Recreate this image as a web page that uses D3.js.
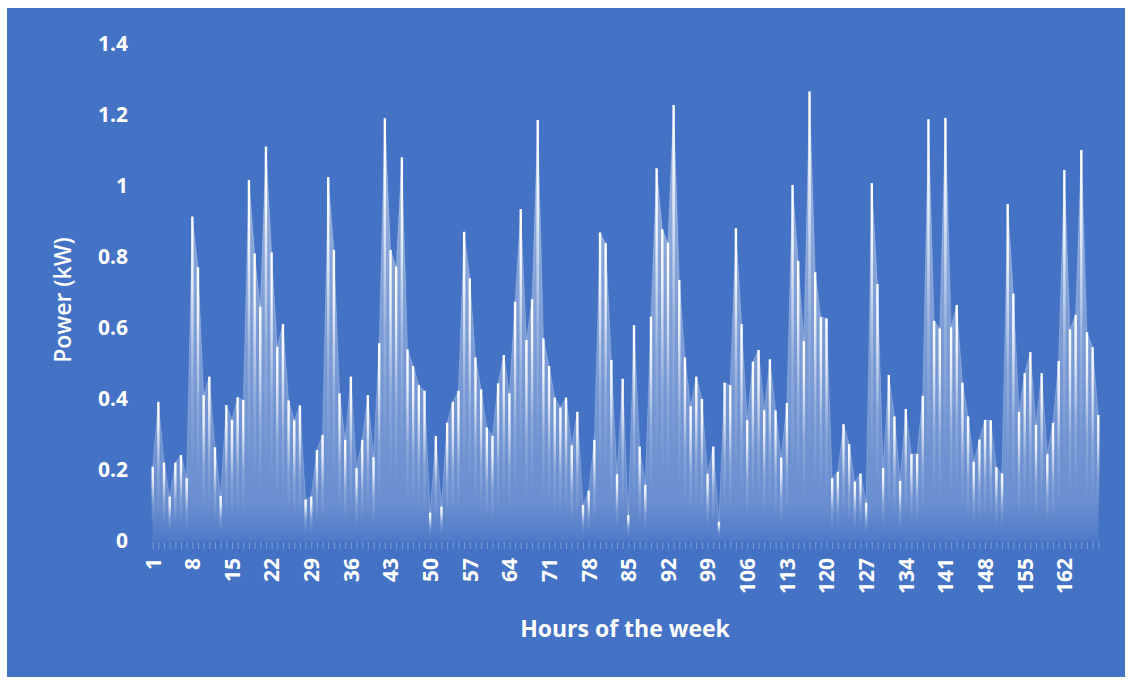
<!DOCTYPE html>
<html>
<head>
<meta charset="utf-8">
<script src="https://cdn.jsdelivr.net/npm/d3@7/dist/d3.min.js"></script>
<style>
  html, body { margin: 0; padding: 0; background: #ffffff; }
  svg { display: block; }
  text { font-family: "Open Sans", "DejaVu Sans", sans-serif; fill: #ffffff; }
</style>
</head>
<body>
<svg id="chart" width="1132" height="682"></svg>
<script>
// Hourly power draw across one week (168 hours), kW
const hours = d3.range(1, 169);
const power = [
  0.209, 0.392, 0.221, 0.125, 0.221, 0.242, 0.177, 0.914, 0.771, 0.411,
  0.463, 0.264, 0.127, 0.383, 0.341, 0.405, 0.397, 1.017, 0.810, 0.660,
  1.111, 0.813, 0.547, 0.611, 0.396, 0.340, 0.382, 0.117, 0.125, 0.256,
  0.299, 1.025, 0.820, 0.416, 0.285, 0.463, 0.205, 0.285, 0.411, 0.236,
  0.557, 1.191, 0.820, 0.773, 1.081, 0.540, 0.493, 0.439, 0.423, 0.080,
  0.296, 0.097, 0.333, 0.392, 0.423, 0.871, 0.740, 0.517, 0.427, 0.320,
  0.296, 0.444, 0.524, 0.416, 0.674, 0.935, 0.566, 0.681, 1.186, 0.571,
  0.493, 0.404, 0.376, 0.404, 0.269, 0.364, 0.101, 0.142, 0.285, 0.869,
  0.839, 0.510, 0.188, 0.457, 0.073, 0.608, 0.266, 0.158, 0.632, 1.050,
  0.878, 0.840, 1.228, 0.735, 0.517, 0.380, 0.463, 0.400, 0.189, 0.266,
  0.054, 0.446, 0.439, 0.881, 0.611, 0.340, 0.505, 0.538, 0.368, 0.512,
  0.368, 0.235, 0.389, 1.003, 0.789, 0.563, 1.266, 0.757, 0.631, 0.627,
  0.177, 0.195, 0.329, 0.273, 0.167, 0.190, 0.108, 1.008, 0.724, 0.205,
  0.468, 0.351, 0.169, 0.372, 0.245, 0.245, 0.409, 1.188, 0.620, 0.599,
  1.192, 0.602, 0.665, 0.446, 0.351, 0.223, 0.286, 0.341, 0.340, 0.208,
  0.190, 0.949, 0.697, 0.364, 0.473, 0.532, 0.327, 0.473, 0.245, 0.333,
  0.507, 1.045, 0.596, 0.637, 1.101, 0.588, 0.546, 0.355
];
const yTicks = [0, 0.2, 0.4, 0.6, 0.8, 1, 1.2, 1.4];
const xTickLabels = hours.filter(h => (h - 1) % 7 === 0);

const data = hours.map((h, i) => ({ hour: h, value: power[i] }));

const svg = d3.select("#chart");

// Chart panel
svg.append("rect")
  .attr("x", 7).attr("y", 8)
  .attr("width", 1118).attr("height", 669)
  .attr("fill", "#4472c4");

const plot = { left: 152.7, right: 1098.3, top: 44, bottom: 541 };

const x = d3.scalePoint()
  .domain(hours)
  .range([plot.left, plot.right]);

const y = d3.scaleLinear()
  .domain([0, 1.4])
  .range([plot.bottom, plot.top]);

const defs = svg.append("defs");

// Fill of the area: paler near the top, fading toward the baseline
const areaGrad = defs.append("linearGradient")
  .attr("id", "areaGrad")
  .attr("gradientUnits", "userSpaceOnUse")
  .attr("x1", 0).attr("x2", 0)
  .attr("y1", y(1.3)).attr("y2", y(0));
areaGrad.append("stop").attr("offset", 0).attr("stop-color", "#ffffff").attr("stop-opacity", 0.5);
areaGrad.append("stop").attr("offset", 0.55).attr("stop-color", "#ffffff").attr("stop-opacity", 0.3);
areaGrad.append("stop").attr("offset", 0.92).attr("stop-color", "#ffffff").attr("stop-opacity", 0.2);
areaGrad.append("stop").attr("offset", 1).attr("stop-color", "#ffffff").attr("stop-opacity", 0.06);

// Highlight streak under each hourly value
const streakGrad = defs.append("linearGradient")
  .attr("id", "streakGrad")
  .attr("x1", 0).attr("x2", 0).attr("y1", 0).attr("y2", 1);
streakGrad.append("stop").attr("offset", 0).attr("stop-color", "#ffffff").attr("stop-opacity", 1);
streakGrad.append("stop").attr("offset", 0.18).attr("stop-color", "#ffffff").attr("stop-opacity", 0.85);
streakGrad.append("stop").attr("offset", 0.5).attr("stop-color", "#ffffff").attr("stop-opacity", 0.2);
streakGrad.append("stop").attr("offset", 0.8).attr("stop-color", "#ffffff").attr("stop-opacity", 0);

const area = d3.area()
  .x(d => x(d.hour))
  .y0(y(0))
  .y1(d => y(d.value));

svg.append("path")
  .datum(data)
  .attr("d", area)
  .attr("fill", "url(#areaGrad)");

svg.append("path")
  .datum(data)
  .attr("d", d3.line().x(d => x(d.hour)).y(d => y(d.value)))
  .attr("fill", "none")
  .attr("stroke", "#ffffff")
  .attr("stroke-opacity", 0.2)
  .attr("stroke-width", 1);

svg.append("g")
  .selectAll("rect")
  .data(data)
  .join("rect")
  .attr("x", d => x(d.hour) - 1.2)
  .attr("width", 2.4)
  .attr("y", d => y(d.value))
  .attr("height", d => y(0) - y(d.value))
  .attr("fill", "url(#streakGrad)");

// Y axis labels
const yAxis = d3.axisLeft(y)
  .tickValues(yTicks)
  .tickFormat(d => d === 0 ? "0" : d3.format("~g")(d))
  .tickSize(0)
  .tickPadding(0);
const gy = svg.append("g")
  .attr("transform", "translate(128,0)")
  .call(yAxis);
gy.select(".domain").remove();
gy.selectAll("text")
  .attr("font-size", 21)
  .attr("font-weight", 700)
  .attr("font-family", "Open Sans, sans-serif")
  .attr("fill", "#ffffff");

// X axis: a tick per hour, labels every 7 hours
const xAxis = d3.axisBottom(x)
  .tickValues(hours)
  .tickSize(7)
  .tickFormat(d => xTickLabels.includes(d) ? String(d) : "");
const gx = svg.append("g")
  .attr("transform", `translate(0,${plot.bottom + 1})`)
  .call(xAxis);
gx.select(".domain").remove();
gx.selectAll(".tick line")
  .attr("stroke", "#ffffff")
  .attr("stroke-opacity", 0.3);
gx.selectAll(".tick text")
  .attr("font-size", 21)
  .attr("font-weight", 700)
  .attr("font-family", "Open Sans, sans-serif")
  .attr("fill", "#ffffff")
  .attr("text-anchor", "end")
  .attr("transform", "rotate(-90)")
  .attr("x", -16)
  .attr("y", 0)
  .attr("dy", "0.35em");

// Axis titles
svg.append("text")
  .attr("transform", "translate(65,300) rotate(-90)")
  .attr("text-anchor", "middle")
  .attr("dominant-baseline", "middle")
  .attr("font-size", 23)
  .attr("font-weight", 600)
  .text("Power (kW)");

svg.append("text")
  .attr("x", 625)
  .attr("y", 631)
  .attr("text-anchor", "middle")
  .attr("dominant-baseline", "middle")
  .attr("font-size", 23)
  .attr("font-weight", 700)
  .text("Hours of the week");
</script>
</body>
</html>
